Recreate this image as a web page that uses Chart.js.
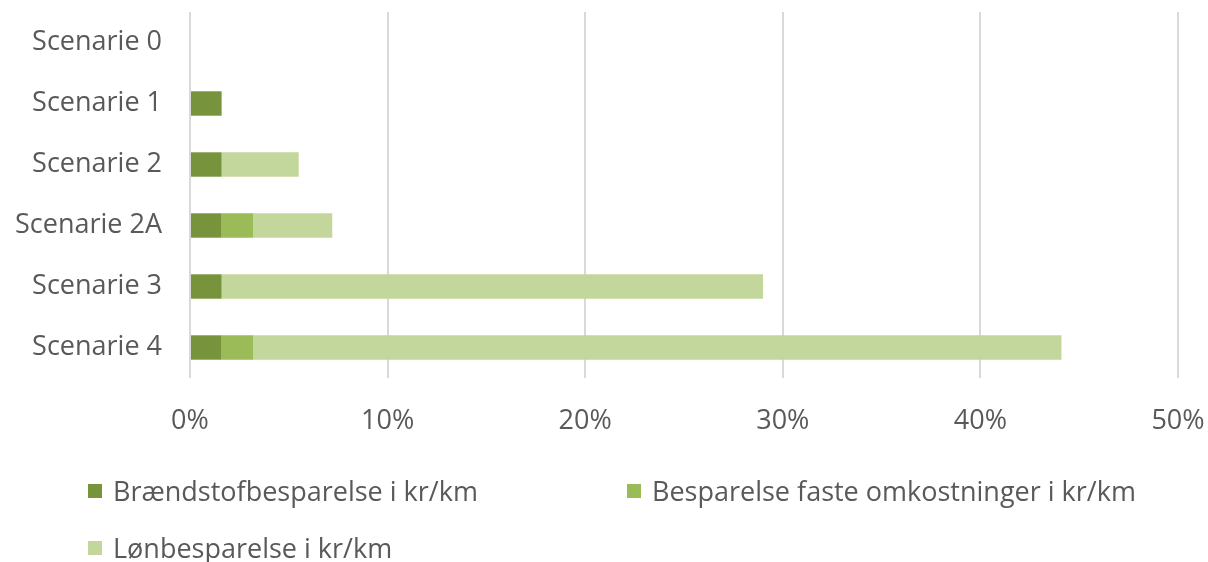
<!DOCTYPE html>
<html>
<head>
    <title>Besparelser pr. scenarie</title>
    <style>
        body { margin: 0; background: #ffffff; font-family: "Open Sans", sans-serif; }
        .wrap { position: relative; width: 1208px; height: 562px; }
        #chart { position: absolute; left: 0; top: 0; }
        .legend { position: absolute; left: 88px; top: 462px; display: grid; grid-template-columns: 539px auto; }
        .legend-item { display: flex; align-items: center; height: 57px; font-size: 27px; color: #595959; white-space: nowrap; }
        .legend-box { width: 14px; height: 14px; margin-right: 11px; flex: none; }
    </style>
</head>
<body>
    <div class="wrap">
        <canvas id="chart" width="1208" height="562"></canvas>
        <div class="legend" id="legend"></div>
    </div>

    <script src="https://cdn.jsdelivr.net/npm/chart.js"></script>
    <script>
        // data (percent)
        const categories = ['Scenarie 0', 'Scenarie 1', 'Scenarie 2', 'Scenarie 2A', 'Scenarie 3', 'Scenarie 4'];
        const seriesNames = ['Brændstofbesparelse i kr/km', 'Besparelse faste omkostninger i kr/km', 'Lønbesparelse i kr/km'];
        const fuelSaving = [0, 1.6, 1.6, 1.6, 1.6, 1.6];
        const fixedSaving = [0, 0, 0, 1.6, 0, 1.6];
        const wageSaving = [0, 0, 3.9, 4.0, 27.4, 40.9];
        const xTicks = [0, 10, 20, 30, 40, 50];

        const colors = ['#77933c', '#9bbb59', '#c3d69b'];
        const textColor = '#595959';
        const font = { family: '"Open Sans", sans-serif', size: 27 };

        const datasets = [fuelSaving, fixedSaving, wageSaving].map((d, i) => ({
            label: seriesNames[i],
            data: d,
            backgroundColor: colors[i],
            borderWidth: 0,
            barPercentage: 0.4,
            categoryPercentage: 1
        }));

        new Chart(document.getElementById('chart'), {
            type: 'bar',
            data: { labels: categories, datasets: datasets },
            options: {
                indexAxis: 'y',
                responsive: false,
                animation: false,
                layout: { padding: { top: 12, right: 30, bottom: 124, left: 0 } },
                plugins: { legend: { display: false }, tooltip: { enabled: false } },
                scales: {
                    x: {
                        stacked: true,
                        min: xTicks[0],
                        max: xTicks[xTicks.length - 1],
                        afterBuildTicks: s => { s.ticks = xTicks.map(v => ({ value: v })); },
                        afterFit: s => { s.height = 60; s.paddingLeft = 0; s.paddingRight = 0; },
                        grid: { color: '#d9d9d9', lineWidth: 2, drawTicks: false },
                        border: { display: false },
                        ticks: { color: textColor, font: font, padding: 27, callback: v => v + '%' }
                    },
                    y: {
                        stacked: true,
                        afterFit: s => { s.width = 190; s.paddingTop = 0; s.paddingBottom = 0; },
                        grid: { display: false, drawTicks: false },
                        border: { display: false },
                        ticks: { color: textColor, font: font, padding: 28 }
                    }
                }
            }
        });

        const legend = document.getElementById('legend');
        seriesNames.forEach((name, i) => {
            const item = document.createElement('div');
            item.className = 'legend-item';
            item.innerHTML = '<span class="legend-box" style="background:' + colors[i] + '"></span><span>' + name + '</span>';
            legend.appendChild(item);
        });
    </script>
</body>
</html>
